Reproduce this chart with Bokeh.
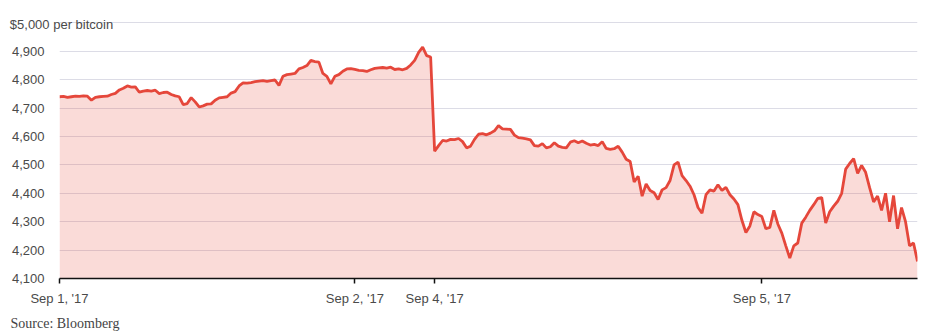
from bokeh.plotting import figure
from bokeh.models import Range1d, FixedTicker, LinearAxis, Grid, Title
from bokeh.embed import file_html
from bokeh.resources import INLINE

# Bitcoin price, USD, sampled at regular intervals (trading-time index)
prices = [
    4740, 4741, 4738, 4740, 4742, 4741, 4743, 4742, 4728, 4738,
    4740, 4741, 4742, 4748, 4752, 4764, 4770, 4778, 4774, 4775,
    4756, 4760, 4762, 4760, 4763, 4751, 4755, 4756, 4748, 4743,
    4740, 4712, 4716, 4737, 4722, 4704, 4708, 4714, 4715, 4728,
    4736, 4738, 4740, 4753, 4758, 4778, 4789, 4788, 4790, 4793,
    4795, 4797, 4794, 4797, 4799, 4780, 4812, 4818, 4820, 4822,
    4838, 4843, 4850, 4868, 4864, 4862, 4822, 4812, 4785, 4812,
    4818, 4830, 4838, 4839, 4836, 4833, 4832, 4829, 4835, 4840,
    4842, 4843, 4841, 4844, 4836, 4838, 4835, 4840, 4852, 4868,
    4896, 4915, 4885, 4880, 4548, 4568, 4586, 4584, 4590, 4589,
    4593, 4582, 4560, 4566, 4590, 4608, 4610, 4606, 4612, 4620,
    4638, 4627, 4626, 4625, 4605, 4596, 4594, 4592, 4588, 4568,
    4566, 4575, 4560, 4564, 4578, 4566, 4562, 4560, 4580, 4585,
    4578, 4584, 4576, 4570, 4572, 4568, 4582, 4558, 4555, 4557,
    4566, 4545, 4520, 4512, 4440, 4460, 4390, 4433, 4410, 4402,
    4378, 4412, 4420, 4445, 4500, 4510, 4462, 4445, 4425, 4395,
    4350, 4330, 4395, 4412, 4408, 4430, 4410, 4421, 4395, 4380,
    4360, 4305, 4262, 4285, 4335, 4325, 4318, 4275, 4280, 4340,
    4292, 4260, 4215, 4172, 4215, 4225, 4295, 4316, 4340, 4360,
    4382, 4385, 4295, 4335, 4355, 4372, 4400, 4485, 4505, 4522,
    4470, 4498, 4474, 4420, 4370, 4390, 4340, 4400, 4300, 4392,
    4275, 4350, 4300, 4215, 4225, 4160,
]
date_ticks = [0, 74, 94, 176]
date_labels = ["Sep 1, '17", "Sep 2, '17", "Sep 4, '17", "Sep 5, '17"]
y_ticks = [4100, 4200, 4300, 4400, 4500, 4600, 4700, 4800, 4900, 5000]
y_unit_label = "$5,000 per bitcoin"
source_text = "Source: Bloomberg"

x = list(range(len(prices)))
base = y_ticks[0]
TEXT = "#4a4a4a"
GRID = "#dcdce6"

p = figure(width=929, height=336, output_backend="svg", toolbar_location=None,
           x_range=Range1d(0, len(prices) - 1), y_range=Range1d(y_ticks[0], y_ticks[-1] + 5),
           min_border_left=59, min_border_right=12, min_border_top=21, min_border_bottom=10)
p.outline_line_color = None
p.background_fill_color = "white"
p.border_fill_color = "white"

p.varea(x=x, y1=[base] * len(x), y2=prices, fill_color="#e74c3c", fill_alpha=0.2)
p.line(x, prices, line_color="#e5473b", line_width=2.8)

# x axis (below)
xa = p.below[0]
xa.ticker = FixedTicker(ticks=date_ticks)
xa.major_label_overrides = dict(zip(date_ticks, date_labels))
xa.axis_line_color = "#111111"
xa.axis_line_width = 1.5
xa.major_tick_line_color = "#111111"
xa.major_tick_line_width = 1.5
xa.major_tick_out = 5
xa.major_tick_in = 0
xa.minor_tick_line_color = None
xa.major_label_text_font = "Liberation Sans"
xa.major_label_text_font_size = "13px"
xa.major_label_text_color = TEXT
xa.major_label_standoff = 7

# y axis (top value is labelled by the unit text instead)
ya = p.left[0]
ya.ticker = FixedTicker(ticks=y_ticks[:-1])
ya.major_label_overrides = {t: f"{t:,}" for t in y_ticks[:-1]}
ya.axis_line_color = None
ya.major_tick_line_color = None
ya.minor_tick_line_color = None
ya.major_label_text_font = "Liberation Sans"
ya.major_label_text_font_size = "13px"
ya.major_label_text_color = TEXT
ya.major_label_standoff = 9

p.ygrid.ticker = FixedTicker(ticks=y_ticks[:-1])
p.ygrid.grid_line_color = GRID
p.ygrid.grid_line_width = 1
p.xgrid.grid_line_color = None

# top gridline starts after the unit text
top_grid = Grid(dimension=1, ticker=FixedTicker(ticks=[y_ticks[-1]]),
                bounds=(15, len(prices) - 1), grid_line_color=GRID, grid_line_width=1)
p.add_layout(top_grid)

# unit text sitting on the top gridline
unit_axis = LinearAxis(ticker=FixedTicker(ticks=[0.5]),
                       major_label_overrides={0.5: y_unit_label},
                       axis_line_color=None, major_tick_line_color=None,
                       minor_tick_line_color=None, major_tick_out=0, major_tick_in=0,
                       major_label_standoff=-10,
                       major_label_text_font="Liberation Sans",
                       major_label_text_font_size="13px",
                       major_label_text_color=TEXT)
p.add_layout(unit_axis, "above")

src = Title(text=source_text, align="left", offset=-49, text_font="Liberation Serif",
            text_font_size="14px", text_font_style="normal", text_color="#444444",
            standoff=11)
p.add_layout(src, "below")

open("out.html", "w").write(file_html(p, INLINE))
